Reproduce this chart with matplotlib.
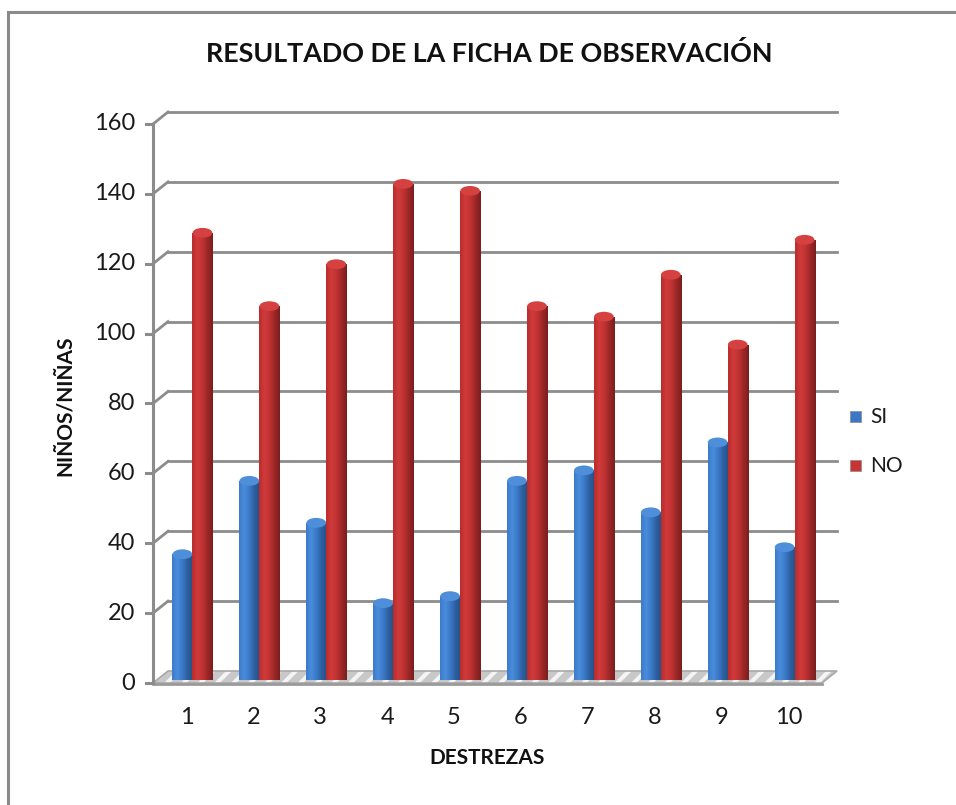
import numpy as np
import matplotlib
matplotlib.use("Agg")
import matplotlib.pyplot as plt
from matplotlib.colors import LinearSegmentedColormap
from matplotlib.patches import Polygon, Ellipse, Rectangle
from matplotlib.lines import Line2D
import matplotlib.transforms as mtransforms

plt.rcParams['font.family'] = ['Lato', 'DejaVu Sans']
plt.rcParams['hatch.linewidth'] = 3.0

categories = ['1', '2', '3', '4', '5', '6', '7', '8', '9', '10']
si_values = [36, 57, 45, 22, 24, 57, 60, 48, 68, 38]
no_values = [128, 107, 119, 142, 140, 107, 104, 116, 96, 126]
series_names = ['SI', 'NO']
y_ticks = [0, 20, 40, 60, 80, 100, 120, 140, 160]

title = 'RESULTADO DE LA FICHA DE OBSERVACIÓN'
xlabel = 'DESTREZAS'
ylabel = 'NIÑOS/NIÑAS'

W, H = 956, 805
fig = plt.figure(figsize=(W / 100, H / 100), dpi=100)
fig.patch.set_facecolor('white')

# outer chart border (only left/top visible)
fig.add_artist(Rectangle((8 / W, -0.05), 1.1, (H - 12) / H + 0.05, transform=fig.transFigure,
                         fill=False, edgecolor='#8a8a8a', linewidth=2.2))

left, right = 153 / W, 822 / W
bottom, top = (H - 683) / H, (H - 124) / H
ax = fig.add_axes([left, bottom, right - left, top - bottom])
ax.set_xlim(0.5, 10.5)
ax.set_ylim(0, 160)
ax.axis('off')

# bars axes: same scale, sitting 3px higher (bars stand inside the floor)
axb = fig.add_axes([left, bottom + 3 / H, right - left, top - bottom])
axb.set_xlim(0.5, 10.5)
axb.set_ylim(0, 160)
axb.axis('off')

back = mtransforms.offset_copy(ax.transData, fig=fig, x=15, y=12, units='dots')

grid_col = '#8c8c8c'
for v in y_ticks[1:]:
    ax.add_line(Line2D([0.5, 10.5], [v, v], transform=back, color=grid_col, lw=2.0, clip_on=False))
    p0 = ax.transData.transform((0.5, v))
    p1 = back.transform((0.5, v))
    ax.add_line(Line2D([p0[0], p1[0]], [p0[1], p1[1]], transform=None, color=grid_col, lw=2.0, clip_on=False))

# floor
f0 = ax.transData.transform((0.5, 0))
f1 = ax.transData.transform((10.5, 0))
b0 = back.transform((0.5, 0))
b1 = back.transform((10.5, 0))
pts = [f0, f1, b1, b0]
ax.add_patch(Polygon(pts, closed=True, transform=None, facecolor='#c8c8c8', edgecolor='none',
                     clip_on=False, zorder=1))
ax.add_patch(Polygon(pts, closed=True, transform=None, fill=False, edgecolor='#f4f4f4', lw=0,
                     hatch='//', clip_on=False, zorder=1.1))
ax.add_patch(Polygon(pts, closed=True, transform=None, fill=False, edgecolor='#a8a8a8', lw=1.2,
                     clip_on=False, zorder=1.2))
ax.add_line(Line2D([f0[0], f1[0]], [f0[1] - 1, f1[1] - 1], transform=None, color='#9a9a9a', lw=2, clip_on=False))

# front vertical axis and ticks
ax.add_line(Line2D([0.5, 0.5], [0, 160], color=grid_col, lw=2.2, clip_on=False, zorder=3))
for v in y_ticks:
    p = ax.transData.transform((0.5, v))
    ax.add_line(Line2D([p[0] - 7, p[0]], [p[1], p[1]], transform=None, color=grid_col, lw=2.2, clip_on=False))
    ax.text(p[0] - 18, p[1], str(v), transform=None, ha='right', va='center', fontsize=17, color='#1a1a1a')

for i, c in enumerate(categories):
    ax.text(i + 1, -10, c, ha='center', va='center', fontsize=17, color='#1a1a1a')

blue_cmap = LinearSegmentedColormap.from_list('b', ['#3d7acb', '#4a8ddc', '#3a78c6', '#2d5f9f', '#264f85'])
red_cmap = LinearSegmentedColormap.from_list('r', ['#b92d2d', '#d03a3a', '#c13333', '#9c2727', '#7a1e1e'])
grad = np.linspace(0, 1, 64).reshape(1, -1)

bw = 0.30
shift = 0.09
x = np.arange(1, len(categories) + 1)

def draw_series(xs, vals, cmap, cap_col):
    bars = axb.bar(xs, vals, width=bw, align='edge', color='none', edgecolor='none', zorder=4)
    for b in bars:
        x0, w, h = b.get_x(), b.get_width(), b.get_height()
        im = axb.imshow(grad, cmap=cmap, extent=[x0, x0 + w, 0, h], aspect='auto', zorder=4,
                        interpolation='bilinear')
        im.set_clip_path(b)
        axb.add_patch(Ellipse((x0 + w / 2, h), w * 0.98, 2.8, facecolor=cap_col, edgecolor='none', zorder=5))

draw_series(x + shift - bw, si_values, blue_cmap, '#4f8fda')
draw_series(x + shift, no_values, red_cmap, '#d54040')
axb.set_xlim(0.5, 10.5)
axb.set_ylim(0, 160)

fig.text(489 / W, 1 - 53 / H, title, ha='center', va='center', fontsize=19.4, fontweight='bold', color='#111111')
fig.text(487 / W, 1 - 758 / H, xlabel, ha='center', va='center', fontsize=15, fontweight='bold', color='#111111')
fig.text(65 / W, 1 - 406 / H, ylabel, ha='center', va='center', rotation=90, fontsize=15, fontweight='bold', color='#111111')

for name, col, yy in [(series_names[0], '#3a78c6', 417), (series_names[1], '#c83434', 466)]:
    fig.add_artist(Rectangle((850 / W, 1 - (yy + 5) / H), 11 / W, 11 / H, transform=fig.transFigure,
                             facecolor=col, edgecolor='#888888', lw=0.5))
    fig.text(870 / W, 1 - yy / H, name, ha='left', va='center', fontsize=15, color='#1a1a1a')

fig.savefig('out.png', dpi=100, facecolor='white')
